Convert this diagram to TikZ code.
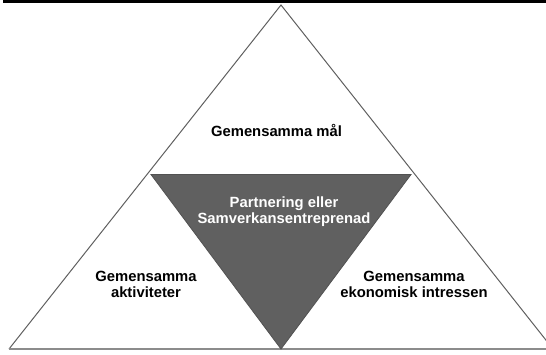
\documentclass[tikz,border=0pt]{standalone}
\usepackage{fontspec}
\setmainfont{Liberation Sans}
\definecolor{edgegray}{RGB}{95,95,95}
\definecolor{basegray}{RGB}{140,140,140}
\definecolor{darkfill}{RGB}{96,96,96}
\tikzset{
  lbl/.style={font=\bfseries\fontsize{14.8}{16}\selectfont, align=center, inner sep=0pt, text=black},
  lblw/.style={lbl, text=white},
  outer/.style={draw=edgegray, line width=1pt},
  innertri/.style={fill=darkfill, draw=darkfill!85!black, line width=0.8pt},
}
\begin{document}
\begin{tikzpicture}[x=1pt,y=-1pt]
\useasboundingbox (0,0) rectangle (546,354);
\begin{scope}
\clip (0,0) rectangle (546,354);
% top rule
\draw[line width=3pt] (3,1.5) -- (546,1.5);
% outer triangle
\coordinate (apex) at (281,5);
\coordinate (bl) at (9,349);
\coordinate (br) at (553,349);
\draw[outer] (bl) -- (apex) -- (br);
\draw[basegray, line width=1.8pt] (bl) -- (br);
% inner triangle
\coordinate (itl) at (151,174.5);
\coordinate (itr) at (411,174.5);
\coordinate (ib) at (281,349);
\draw[innertri] (itl) -- (itr) -- (ib) -- cycle;
\end{scope}
% labels
\node[lbl] (goal) at (276.5,130.5) {Gemensamma mål};
\node[lblw] (core) at (284,212) {Partnering eller\\Samverkansentreprenad};
\node[lbl] (act) at (146,284) {Gemensamma\\aktiviteter};
\node[lbl] (eco) at (414,284) {Gemensamma\\ekonomisk intressen};
\end{tikzpicture}
\end{document}
